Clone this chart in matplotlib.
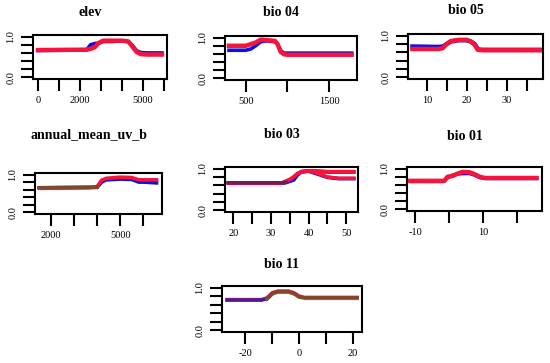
import matplotlib
matplotlib.use('Agg')
from matplotlib import pyplot as plt
import numpy as np

# ---- data ----
elev_x = [0, 2300, 2500, 2700, 2900, 3100, 3500, 4000, 4300, 4500, 4700, 4900, 5200, 5900]
elev_red = [0.67, 0.68, 0.70, 0.74, 0.85, 0.90, 0.90, 0.90, 0.88, 0.75, 0.62, 0.57, 0.56, 0.56]
elev_blue = [0.66, 0.67, 0.80, 0.83, 0.84, 0.88, 0.88, 0.90, 0.88, 0.78, 0.65, 0.61, 0.60, 0.60]

bio04_x = [300, 500, 560, 620, 680, 750, 850, 880, 920, 960, 1000, 1771]
bio04_red = [0.80, 0.80, 0.84, 0.88, 0.95, 0.94, 0.92, 0.85, 0.65, 0.59, 0.58, 0.58]
bio04_blue = [0.69, 0.69, 0.72, 0.80, 0.90, 0.92, 0.90, 0.85, 0.68, 0.62, 0.62, 0.62]

bio05_x = [6.4, 13, 14, 15, 16, 18, 20, 21, 22, 22.8, 24, 38.3]
bio05_red = [0.68, 0.68, 0.70, 0.80, 0.87, 0.90, 0.90, 0.86, 0.78, 0.66, 0.65, 0.65]
bio05_blue = [0.74, 0.73, 0.74, 0.80, 0.86, 0.89, 0.89, 0.86, 0.80, 0.67, 0.66, 0.66]

uvb_x = [1510, 3700, 4000, 4200, 4400, 5000, 5500, 5800, 6000, 6570]
uvb_red = [0.65, 0.66, 0.68, 0.85, 0.90, 0.93, 0.92, 0.86, 0.86, 0.86]
uvb_blue = [0.65, 0.66, 0.66, 0.80, 0.86, 0.88, 0.87, 0.80, 0.80, 0.78]
uvb_brown = [0.65, 0.66, 0.67, 0.82, 0.88, 0.90, 0.90, 0.84, 0.82, 0.82]

bio03_x = [18.7, 33, 34, 35, 36, 37, 38, 40, 42, 45, 48, 52]
bio03_red_a = [0.66, 0.66, 0.70, 0.74, 0.80, 0.88, 0.92, 0.95, 0.95, 0.93, 0.93, 0.93]
bio03_red_b = [0.66, 0.66, 0.70, 0.74, 0.80, 0.88, 0.92, 0.95, 0.90, 0.80, 0.77, 0.77]
bio03_blue_a = [0.66, 0.66, 0.67, 0.70, 0.73, 0.85, 0.93, 0.95, 0.93, 0.92, 0.92, 0.92]
bio03_blue_b = [0.66, 0.66, 0.67, 0.70, 0.73, 0.85, 0.92, 0.94, 0.88, 0.79, 0.76, 0.76]

bio01_x = [-11.5, -1.5, -0.5, 1, 2.5, 4, 6, 7.5, 9, 10.5, 25.6]
bio01_red = [0.70, 0.70, 0.80, 0.82, 0.88, 0.92, 0.91, 0.86, 0.80, 0.77, 0.77]
bio01_blue = [0.69, 0.69, 0.78, 0.84, 0.87, 0.88, 0.88, 0.84, 0.78, 0.76, 0.76]

bio11_x = [-26.8, -14, -12, -10, -8, -4, -2, 0, 2, 21.5]
bio11_red = [0.72, 0.72, 0.76, 0.88, 0.92, 0.92, 0.88, 0.80, 0.77, 0.77]
bio11_blue = [0.71, 0.71, 0.74, 0.86, 0.90, 0.90, 0.86, 0.78, 0.76, 0.76]

# title, xlim, xticks, shown tick labels, box (px: left, top, right, bottom), title y px
panels = [
    ('elev', (-240, 6140), [0, 1000, 2000, 3000, 4000, 5000, 6000], {0: '0', 2000: '2000', 5000: '5000'}, (33, 35, 167, 79), 12),
    ('bio 04', (252, 1835), [500, 1000, 1500], {500: '500', 1500: '1500'}, (225, 36, 357, 80), 13),
    ('bio 05', (5.3, 39.1), [10, 15, 20, 25, 30, 35], {10: '10', 20: '20', 30: '30'}, (408, 34, 543, 79), 11),
    ('annual_mean_uv_b', (1323, 6806), [2000, 3000, 4000, 5000, 6000], {2000: '2000', 5000: '5000'}, (35, 173, 162, 214), 135),
    ('bio 03', (17.8, 53.1), [20, 25, 30, 35, 40, 45, 50], {20: '20', 30: '30', 40: '40', 50: '50'}, (225, 167, 358, 212), 135),
    ('bio 01', (-12.4, 27.2), [-10, 0, 10, 20], {-10: '-10', 10: '10'}, (407, 167, 542, 211), 136),
    ('bio 11', (-28.7, 23.3), [-20, -10, 0, 10, 20], {-20: '-20', 0: '0', 20: '20'}, (222, 286, 362, 332), 265),
]

W, H = 550, 363
plt.rcParams['font.family'] = ['Liberation Serif', 'DejaVu Serif']
fig = plt.figure(figsize=(W / 100, H / 100), dpi=100)

RED = '#f5143c'
BLUE = '#1010e0'
BROWN = '#7a4a2a'
PINK = '#ffc8ec'

axes = []
for title, xlim, xt, xl, (l, t, r, b), ty in panels:
    ax = fig.add_axes([l / W, 1 - b / H, (r - l) / W, (b - t) / H])
    ax.set_xlim(*xlim)
    ax.set_ylim(-0.04, 1.04)
    ax.set_xticks(xt)
    ax.set_xticklabels([xl.get(v, '') for v in xt], fontsize=7.5)
    ax.set_yticks([0, 0.2, 0.4, 0.6, 0.8, 1.0])
    ax.set_yticklabels(['0.0', '', '', '', '', '1.0'], fontsize=7.5, rotation=90, va='center')
    ax.tick_params(length=8.5, width=1.5, pad=4)
    for s in ax.spines.values():
        s.set_linewidth(1.5)
    cx = (l + r) / 2 - 10
    fig.text(cx / W, 1 - ty / H, title, ha='center', va='center', fontsize=10, fontweight='bold')
    axes.append(ax)

lw = 2.6
ax = axes[0]
ax.plot(elev_x, elev_blue, color=BLUE, lw=lw)
ax.plot(elev_x, elev_red, color=RED, lw=lw + 0.6)

ax = axes[1]
ax.plot(bio04_x, bio04_blue, color=BLUE, lw=lw)
ax.plot(bio04_x, bio04_red, color=RED, lw=lw + 0.6)

ax = axes[2]
ax.plot(bio05_x, bio05_blue, color=BLUE, lw=lw + 0.6)
ax.plot(bio05_x, bio05_red, color=RED, lw=lw + 0.6)

ax = axes[3]
ax.fill_between(uvb_x[:2], [0.58, 0.60], [0.66, 0.67], color=PINK, alpha=0.6, lw=0)
ax.plot(uvb_x, uvb_blue, color=BLUE, lw=lw)
ax.plot(uvb_x, uvb_red, color=RED, lw=lw)
ax.plot(uvb_x[:3], uvb_brown[:3], color=BROWN, lw=lw)

ax = axes[4]
ax.fill_between(bio03_x[:2], [0.56, 0.56], [0.66, 0.66], color=PINK, alpha=0.6, lw=0)
ax.plot(bio03_x, bio03_blue_a, color=BLUE, lw=lw)
ax.plot(bio03_x, bio03_blue_b, color=BLUE, lw=lw)
ax.plot(bio03_x, bio03_red_a, color=RED, lw=lw)
ax.plot(bio03_x, bio03_red_b, color=RED, lw=lw)
ax.plot(bio03_x[:3], bio03_blue_b[:3], color='#6a2050', lw=lw)

ax = axes[5]
ax.fill_between(bio01_x[:2], [0.62, 0.62], [0.70, 0.70], color=PINK, alpha=0.5, lw=0)
ax.plot(bio01_x, bio01_blue, color=BLUE, lw=lw)
ax.plot(bio01_x, bio01_red, color=RED, lw=lw + 0.6)

ax = axes[6]
ax.fill_between(bio11_x[2:], np.array(bio11_red[2:]) - 0.06, np.array(bio11_red[2:]) + 0.06,
                color=PINK, alpha=0.6, lw=0)
ax.plot(bio11_x, bio11_red, color=RED, lw=lw)
ax.plot(bio11_x[:4], bio11_blue[:4], color='#4a1aa0', lw=lw)
ax.plot(bio11_x[2:], bio11_blue[2:], color=BROWN, lw=lw)

fig.savefig('out.png', dpi=100)
